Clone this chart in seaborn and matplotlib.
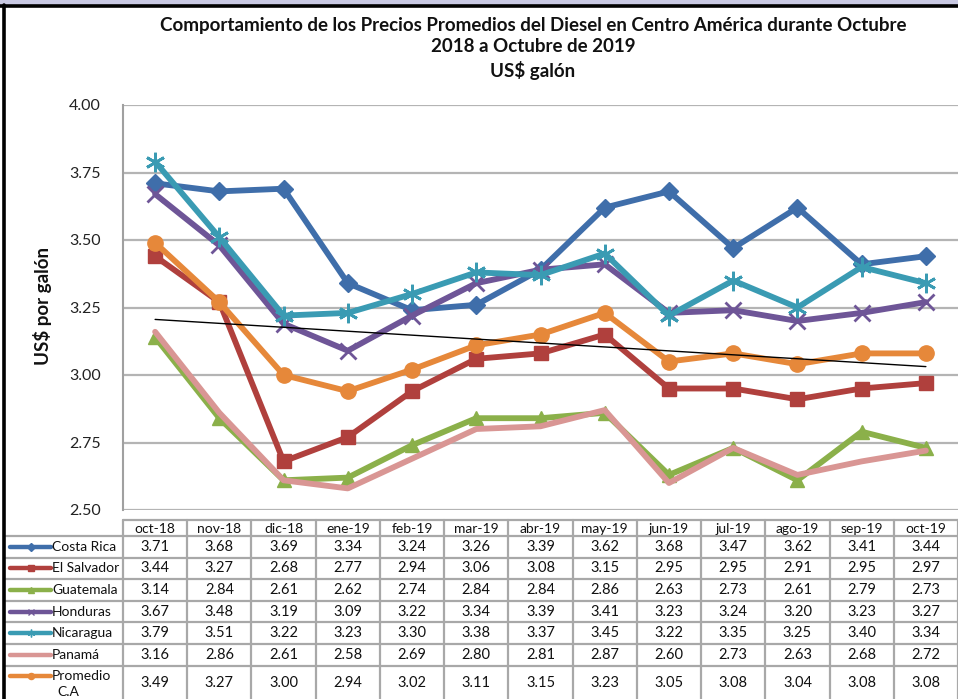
import numpy as np
import pandas as pd
import matplotlib
matplotlib.use("Agg")
import matplotlib.pyplot as plt
from matplotlib.patches import Rectangle
import seaborn as sns

months = ["oct-18", "nov-18", "dic-18", "ene-19", "feb-19", "mar-19", "abr-19",
          "may-19", "jun-19", "jul-19", "ago-19", "sep-19", "oct-19"]
costa_rica = [3.71, 3.68, 3.69, 3.34, 3.24, 3.26, 3.39, 3.62, 3.68, 3.47, 3.62, 3.41, 3.44]
el_salvador = [3.44, 3.27, 2.68, 2.77, 2.94, 3.06, 3.08, 3.15, 2.95, 2.95, 2.91, 2.95, 2.97]
guatemala = [3.14, 2.84, 2.61, 2.62, 2.74, 2.84, 2.84, 2.86, 2.63, 2.73, 2.61, 2.79, 2.73]
honduras = [3.67, 3.48, 3.19, 3.09, 3.22, 3.34, 3.39, 3.41, 3.23, 3.24, 3.20, 3.23, 3.27]
nicaragua = [3.79, 3.51, 3.22, 3.23, 3.30, 3.38, 3.37, 3.45, 3.22, 3.35, 3.25, 3.40, 3.34]
panama = [3.16, 2.86, 2.61, 2.58, 2.69, 2.80, 2.81, 2.87, 2.60, 2.73, 2.63, 2.68, 2.72]
promedio = [3.49, 3.27, 3.00, 2.94, 3.02, 3.11, 3.15, 3.23, 3.05, 3.08, 3.04, 3.08, 3.08]

series_names = ["Costa Rica", "El Salvador", "Guatemala", "Honduras", "Nicaragua", "Panamá", "Promedio\nC.A"]
series_values = [costa_rica, el_salvador, guatemala, honduras, nicaragua, panama, promedio]
colors = ["#3F6EAA", "#B0403D", "#8BB04A", "#6E5597", "#3A9BB3", "#D99694", "#E6883A"]
markers = ["D", "s", "^", "x", (6, 2, 0), None, "o"]
msizes = [9, 10, 10, 11, 14, 0, 11]

sns.set_theme(style="white")
plt.rcParams["font.family"] = ["Lato", "DejaVu Sans"]

W, H = 958, 699
fig = plt.figure(figsize=(W / 100, H / 100), dpi=100)

L, R = 123, 958
TOP, BOT = 105, 510
ax = fig.add_axes([L / W, 1 - BOT / H, (R - L) / W, (BOT - TOP) / H])

x = np.arange(len(months))
for name, vals, c, m, ms in zip(series_names, series_values, colors, markers, msizes):
    kw = dict(marker=m, markersize=ms, markeredgecolor=c, markerfacecolor=c,
              markeredgewidth=2 if m in ("x", (6, 2, 0)) else 1)
    if m is None:
        kw = {}
    sns.lineplot(x=x, y=vals, ax=ax, color=c, linewidth=4.2, legend=False, **kw)

# linear trend of Promedio C.A
coef = np.polyfit(x, promedio, 1)
sns.lineplot(x=x, y=np.polyval(coef, x), ax=ax, color="black", linewidth=1.0, legend=False)

ax.set_xlim(-0.5, len(months) - 0.5)
ax.set_ylim(2.5, 4.0)
ax.set_yticks(np.arange(2.5, 4.01, 0.25))
ax.set_yticklabels([f"{v:.2f}" for v in np.arange(2.5, 4.01, 0.25)], fontsize=11.5, color="#222222")
ax.set_xticks([])
ax.tick_params(axis="y", length=0, pad=16)
ax.grid(axis="y", color="#B4B4B4", linewidth=1.6)
ax.set_axisbelow(True)
for s in ["top", "bottom", "right"]:
    ax.spines[s].set_visible(False)
ax.spines["left"].set_color("#A0A0A0")
ax.spines["left"].set_linewidth(1.5)

# titles
tkw = dict(ha="center", va="center", fontsize=13.5, fontweight="bold", color="#111111")
fig.text(533 / W, 1 - 25 / H, "Comportamiento de los Precios Promedios del Diesel en Centro América durante Octubre", **tkw)
fig.text(533 / W, 1 - 47 / H, "2018 a Octubre de 2019", **tkw)
fig.text(533 / W, 1 - 70 / H, "US$ galón", **tkw)
fig.text(42 / W, 1 - 306 / H, "US$ por galón", ha="center", va="center", rotation=90,
         fontsize=13.5, fontweight="bold", color="#111111")

# data table
tax = fig.add_axes([0, 0, 1, 1])
tax.set_xlim(0, W)
tax.set_ylim(H, 0)
tax.axis("off")
tax.patch.set_alpha(0)
gc = "#A8A8A8"
colw = (R - L) / len(months)
hdr_top, hdr_bot = 520, 536
row_h = 21.6
row_tops = [hdr_bot + i * row_h for i in range(len(series_names))]
row_tops.append(H + 5)

tax.plot([L, R], [hdr_top, hdr_top], color=gc, lw=1.6)
for yy in row_tops[:-1]:
    tax.plot([6, R], [yy, yy], color=gc, lw=1.6)
for i in range(len(months) + 1):
    xx = L + i * colw
    tax.plot([xx, xx], [hdr_top, H], color=gc, lw=1.6)

for i, mth in enumerate(months):
    tax.text(L + (i + 0.5) * colw, (hdr_top + hdr_bot) / 2 + 1, mth, ha="center", va="center",
             fontsize=10, color="#111111")

n = len(series_names)
for r, (name, vals, c, m, ms) in enumerate(zip(series_names, series_values, colors, markers, msizes)):
    y0 = row_tops[r]
    if r == n - 1:
        yc = 683
    else:
        yc = (y0 + row_tops[r + 1]) / 2
    for i, v in enumerate(vals):
        tax.text(L + (i + 0.5) * colw, yc, f"{v:.2f}", ha="center", va="center",
                 fontsize=10.5, color="#111111")
    ky = y0 + 10 if r == n - 1 else yc
    tax.plot([10, 51], [ky, ky], color=c, lw=3.2, solid_capstyle="round")
    if m is not None:
        tax.plot([31], [ky], marker=m, markersize=ms * 0.4, color=c, markeredgewidth=1.0)
    if r == n - 1:
        tax.text(52, y0 + 10, "Promedio", ha="left", va="center", fontsize=10, color="#111111")
        tax.text(68, y0 + 26, "C.A", ha="center", va="center", fontsize=10, color="#111111")
    else:
        tax.text(52, yc, name, ha="left", va="center", fontsize=10, color="#111111")

# outer frame
tax.add_patch(Rectangle((0, 0), W, 5, color="#C8C8E2", zorder=5))
tax.plot([0, W], [5.5, 5.5], color="black", lw=2.6, zorder=6)
tax.plot([4.5, 4.5], [5, H], color="black", lw=2.6, zorder=6)

fig.savefig("out.png", dpi=100)
